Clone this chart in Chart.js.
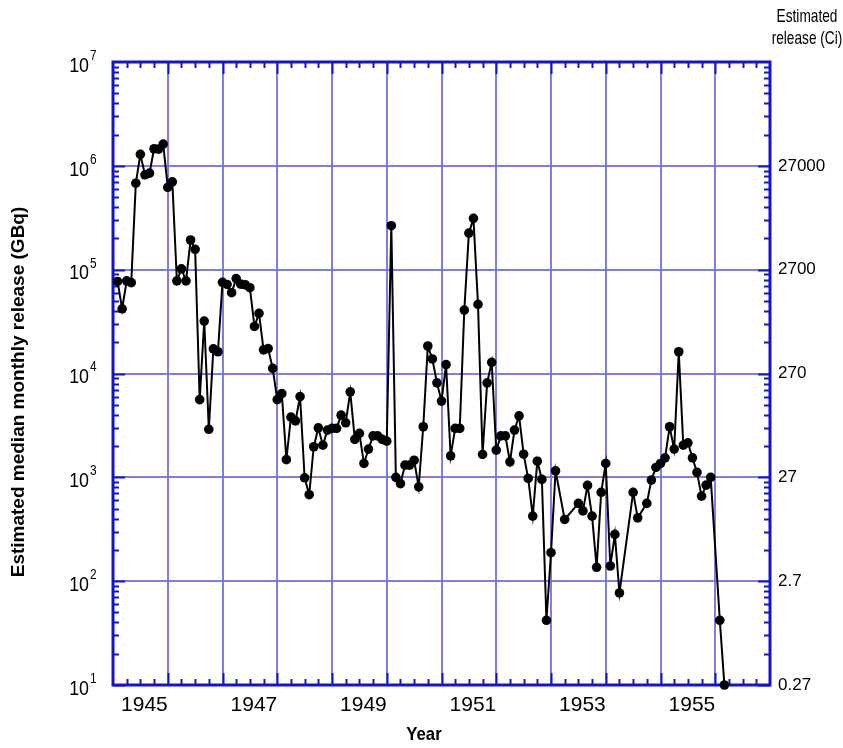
<!DOCTYPE html>
<html>
<head>
<meta charset="utf-8">
<title>Estimated median monthly release</title>
<script src="https://cdn.jsdelivr.net/npm/chart.js@4.4.1/dist/chart.umd.min.js"></script>
<style>
  html, body { margin: 0; padding: 0; background: #fff; }
  #wrap { width: 843px; height: 748px; }
</style>
</head>
<body>
<div id="wrap"><canvas id="releaseChart" width="843" height="748"></canvas></div>
<script>
// Month index counted from January 1944 (1 = end of first month)
const months = [
    1, 2, 3, 4, 5, 6, 7, 8, 9, 10, 11, 12,
    13, 14, 15, 16, 17, 18, 19, 20, 21, 22, 23, 24,
    25, 26, 27, 28, 29, 30, 31, 32, 33, 34, 35, 36,
    37, 38, 39, 40, 41, 42, 43, 44, 45, 46, 47, 48,
    49, 50, 51, 52, 53, 54, 55, 56, 57, 58, 59, 60,
    61, 62, 63, 64, 65, 66, 67, 68, 69, 70, 71, 72,
    73, 74, 75, 76, 77, 78, 79, 80, 81, 82, 83, 84,
    85, 86, 87, 88, 89, 90, 91, 92, 93, 94, 95, 96,
    97, 99, 102, 103, 104, 105, 106, 107, 108,
    109, 110, 111, 114, 115, 117, 118, 119, 120,
    121, 122, 123, 124, 125, 126, 127, 128, 129, 130, 131, 133, 134
];

// Median monthly release (GBq)
const releaseGBq = [
    77000, 42000, 78000, 75000, 680000, 1290000, 820000, 850000, 1460000, 1450000, 1620000, 620000,
    700000, 78000, 102000, 78000, 193000, 157000, 5600, 32000, 2900, 17300, 16200, 75500,
    72000, 60000, 82000, 72500, 71500, 67000, 28400, 38000, 16900, 17400, 11200, 5600,
    6400, 1480, 3800, 3500, 6000, 990, 680, 1970, 3000, 2040, 2850, 2960,
    2960, 3970, 3350, 6660, 2320, 2650, 1360, 1870, 2510, 2510, 2320, 2230,
    265000, 1000, 870, 1310, 1310, 1460, 810, 3070, 18400, 13800, 8130, 5420,
    12200, 1610, 2960, 2960, 40800, 225000, 312000, 46300, 1660, 8130, 12800, 1830,
    2510, 2510, 1410, 2850, 3910, 1670, 975, 423, 1430, 955, 42, 188,
    1155, 393, 561, 475, 836, 423, 136, 716, 1360,
    140, 282, 77, 716, 407, 561, 940, 1245, 1360,
    1540, 3070, 1870, 16200, 2040, 2150, 1540, 1115, 659, 841, 998, 42, 10
];

const decades = [10, 100, 1000, 10000, 100000, 1000000, 10000000];
const decadeExponents = ['1', '2', '3', '4', '5', '6', '7'];
const curieLabels = ['0.27', '2.7', '27', '270', '2700', '27000', ''];
const yearLabels = [1945, 1947, 1949, 1951, 1953, 1955];

const axisBlue = '#1414cc';
const gridBlue = 'rgba(112, 112, 230, 0.9)';
const fontFamily = "'Liberation Sans', Arial, sans-serif";

const points = months.map((m, i) => ({ x: 1944 + m / 12, y: releaseGBq[i] }));

function decadeTicks(scale) {
    scale.ticks = decades.map(v => ({ value: v }));
}

// squeezed text, the labels here are drawn tall and narrow
function narrowText(ctx, text, x, y, squeeze) {
    ctx.save();
    ctx.translate(x, y);
    ctx.scale(squeeze, 1);
    ctx.fillText(text, 0, 0);
    ctx.restore();
}

// Frame with inward tick marks on all four sides
const frameTicks = {
    id: 'frameTicks',
    beforeDatasetsDraw(chart) {
        const { ctx, chartArea: { left, right, top, bottom }, scales: { x, y } } = chart;
        ctx.save();
        ctx.strokeStyle = axisBlue;
        ctx.lineWidth = 2;
        ctx.beginPath();
        for (let e = 1; e < 7; e++) {
            for (let k = 1; k < 10; k++) {
                const py = Math.round(y.getPixelForValue(k * Math.pow(10, e))) + 0.5;
                const len = k === 1 ? 12 : 6;
                ctx.moveTo(left, py); ctx.lineTo(left + len, py);
                ctx.moveTo(right, py); ctx.lineTo(right - len, py);
            }
        }
        for (let q = 1944 * 4 + 1; q < 1956 * 4; q++) {
            const px = Math.round(x.getPixelForValue(q / 4)) + 0.5;
            const len = q % 4 === 0 ? 12 : 6;
            ctx.moveTo(px, bottom); ctx.lineTo(px, bottom - len);
            ctx.moveTo(px, top); ctx.lineTo(px, top + len);
        }
        ctx.stroke();
        ctx.lineWidth = 3;
        ctx.strokeRect(left, top, right - left, bottom - top);
        ctx.restore();
    },
    afterDraw(chart) {
        const { ctx, scales: { y } } = chart;
        ctx.save();
        ctx.fillStyle = '#000';
        ctx.textBaseline = 'middle';
        // powers of ten on the left axis
        decades.forEach((v, i) => {
            const py = y.getPixelForValue(v);
            ctx.font = '21px ' + fontFamily;
            ctx.textAlign = 'right';
            narrowText(ctx, '10', 89, py + 4, 0.85);
            ctx.font = '14px ' + fontFamily;
            ctx.textAlign = 'left';
            narrowText(ctx, decadeExponents[i], 90, py - 6, 0.85);
        });
        // heading over the curie axis
        ctx.font = '19px ' + fontFamily;
        ctx.textAlign = 'center';
        narrowText(ctx, 'Estimated', 807, 17, 0.72);
        narrowText(ctx, 'release (Ci)', 807, 39, 0.72);
        // axis titles
        ctx.font = 'bold 19px ' + fontFamily;
        narrowText(ctx, 'Year', 424, 735, 0.88);
        ctx.save();
        ctx.translate(19, 392);
        ctx.rotate(-Math.PI / 2);
        ctx.font = 'bold 19px ' + fontFamily;
        ctx.fillText('Estimated median monthly release (GBq)', 0, 0);
        ctx.restore();
        ctx.restore();
    }
};

new Chart(document.getElementById('releaseChart'), {
    type: 'line',
    data: {
        datasets: [{
            data: points,
            borderColor: '#000',
            borderWidth: 2,
            pointRadius: 4.8,
            pointHoverRadius: 4.8,
            pointBackgroundColor: '#000',
            pointBorderColor: '#000',
            pointBorderWidth: 0,
            tension: 0,
            clip: false
        }]
    },
    options: {
        responsive: false,
        animation: false,
        events: [],
        layout: { padding: { top: 62, left: 0, right: 0, bottom: 0 } },
        plugins: {
            legend: { display: false },
            tooltip: { enabled: false }
        },
        scales: {
            x: {
                type: 'linear',
                position: 'bottom',
                min: 1944,
                max: 1956,
                afterFit: (scale) => { scale.height = 63; },
                ticks: {
                    stepSize: 1,
                    autoSkip: false,
                    maxRotation: 0,
                    align: 'end',
                    padding: 8,
                    color: '#000',
                    font: { family: fontFamily, size: 21 },
                    callback: (v) => yearLabels.includes(v) ? String(v) : ''
                },
                grid: { color: gridBlue, lineWidth: 2, drawTicks: false },
                border: { display: false }
            },
            y: {
                type: 'logarithmic',
                position: 'left',
                min: 10,
                max: 10000000,
                afterBuildTicks: decadeTicks,
                afterFit: (scale) => { scale.width = 113; },
                ticks: { display: false },
                grid: { color: gridBlue, lineWidth: 2, drawTicks: false },
                border: { display: false }
            },
            y2: {
                type: 'logarithmic',
                position: 'right',
                min: 10,
                max: 10000000,
                afterBuildTicks: decadeTicks,
                afterFit: (scale) => { scale.width = 73; },
                ticks: {
                    padding: 8,
                    color: '#000',
                    font: { family: fontFamily, size: 17 },
                    callback: (v, i) => curieLabels[i]
                },
                grid: { drawOnChartArea: false, drawTicks: false },
                border: { display: false }
            }
        }
    },
    plugins: [frameTicks]
});
</script>
</body>
</html>
